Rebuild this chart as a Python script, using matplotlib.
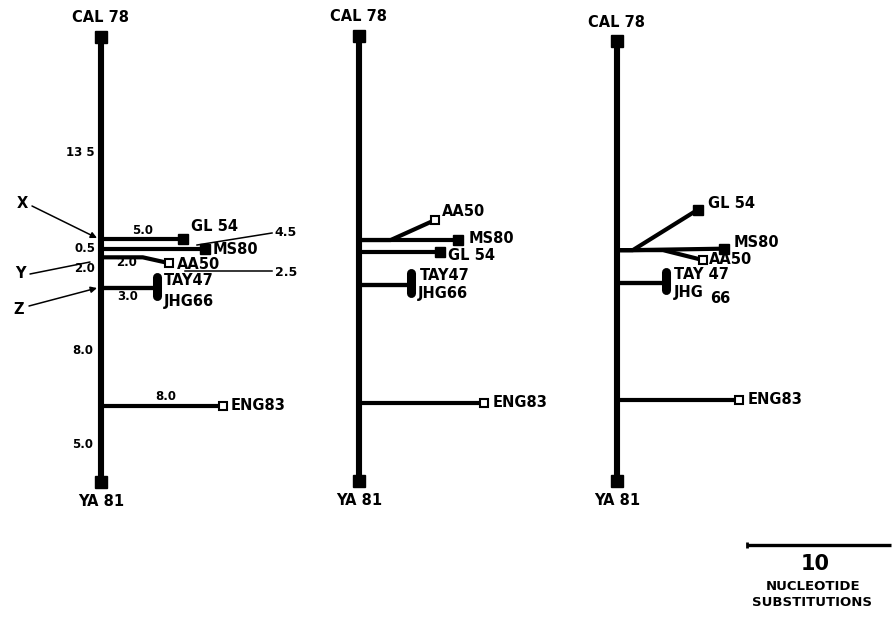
import matplotlib
matplotlib.use("Agg")
import matplotlib.pyplot as plt

# ---------------- data: positions in nucleotide substitutions ----------------
# x = distance from the trunk, y = distance below CAL78 along the trunk
taxa = ["GL54", "MS80", "AA50", "TAY47", "JHG66", "ENG83"]
taxon_text = ["GL 54", "MS80", "AA50", "TAY47", "JHG66", "ENG83"]
filled = [True, True, False, True, True, False]
root_name, tail_name = "CAL 78", "YA 81"

p1_root_y, p1_tail_y = 0.0, 30.9
p1_paths = [
    [(0, 14.0), (5.7, 14.0)],
    [(0, 14.7), (7.2, 14.7)],
    [(0, 15.3), (2.9, 15.3), (4.7, 15.7)],
    [(0, 17.4), (3.9, 17.4), (3.9, 16.7)],
    [(0, 17.4), (3.9, 17.4), (3.9, 18.0)],
    [(0, 25.6), (8.5, 25.6)],
]

p2_root_y, p2_tail_y = -0.1, 30.8
p2_paths = [
    [(0, 14.9), (5.6, 14.9)],
    [(0, 14.1), (6.9, 14.1)],
    [(0, 14.1), (2.2, 14.1), (5.3, 12.7)],
    [(0, 17.2), (3.6, 17.2), (3.6, 16.4)],
    [(0, 17.2), (3.6, 17.2), (3.6, 17.8)],
    [(0, 25.4), (8.7, 25.4)],
]

p3_root_y, p3_tail_y = 0.3, 30.8
p3_paths = [
    [(0, 14.8), (1.1, 14.8), (5.6, 12.0)],
    [(0, 14.8), (1.1, 14.8), (7.4, 14.7)],
    [(0, 14.8), (3.2, 14.8), (6.0, 15.5)],
    [(0, 17.1), (3.4, 17.1), (3.4, 16.3)],
    [(0, 17.1), (3.4, 17.1), (3.4, 17.6)],
    [(0, 25.2), (8.5, 25.2)],
]

# branch-length annotations of the left tree
trunk_lengths = ["13 5", "0.5", "2.0", "8.0", "5.0"]
branch_lengths = ["5.0", "2.0", "3.0", "8.0"]
pointer_lengths = ["4.5", "2.5"]
node_names = ["X", "Y", "Z"]
scale_value = 10
scale_text = ["10", "NUCLEOTIDE", "SUBSTITUTIONS"]

# ---------------- layout ----------------
PX = 14.4            # pixels per substitution
Y0 = 37              # pixel row of the top of the left tree
trunk_px = [101, 359, 617]
W, H = 893, 624

label_off = [
    [(8, -12), (8, 1), (8, 1), (7, 3), (7, 5), (7, 0)],
    [(8, 4), (10, -2), (7, -8), (9, 2), (7, 0), (8, 0)],
    [(10, -6), (10, -6), (6, -1), (8, 3), (8, 1), (8, 0)],
]

fig = plt.figure(figsize=(W / 100, H / 100), dpi=100)
ax = fig.add_axes([0, 0, 1, 1])
ax.set_xlim(0, W)
ax.set_ylim(H, 0)
ax.axis("off")

FONT = dict(family="DejaVu Sans", fontweight="bold", color="black")
LW_TRUNK, LW_BR = 4.4, 3.0
FS = 10.5


def to_px(panel, x, y):
    return trunk_px[panel] + x * PX, Y0 + y * PX


panels = [
    (p1_root_y, p1_tail_y, p1_paths),
    (p2_root_y, p2_tail_y, p2_paths),
    (p3_root_y, p3_tail_y, p3_paths),
]

for pi, (ry, ty, paths) in enumerate(panels):
    x0, y_top = to_px(pi, 0, ry)
    _, y_bot = to_px(pi, 0, ty)
    ax.plot([x0, x0], [y_top, y_bot], color="black", lw=LW_TRUNK,
            solid_capstyle="butt", zorder=2)
    for yy in (y_top, y_bot):
        ax.plot(x0, yy, marker="s", ms=8, color="black", zorder=3)
    ax.text(x0, y_top - 19, root_name, ha="center", va="center", fontsize=FS, **FONT)
    ax.text(x0, y_bot + 20, tail_name, ha="center", va="center", fontsize=FS, **FONT)

    for ti, path in enumerate(paths):
        pts = [to_px(pi, x, y) for x, y in path]
        is_bar = taxa[ti] in ("TAY47", "JHG66")
        main = pts[:-1] if is_bar else pts
        ax.plot([p[0] for p in main], [p[1] for p in main], color="black",
                lw=LW_BR, solid_capstyle="butt", solid_joinstyle="round", zorder=2)
        tx, tyy = pts[-1]
        if is_bar:
            ax.plot([pts[-2][0], tx], [pts[-2][1], tyy], color="black", lw=6.5,
                    solid_capstyle="round", zorder=3)
        elif filled[ti]:
            ax.plot(tx, tyy, marker="s", ms=6.5, color="black", zorder=3)
        else:
            ax.plot(tx, tyy, marker="s", ms=6, mfc="white", mec="black",
                    mew=1.5, zorder=3)
        dx, dy = label_off[pi][ti]
        label = taxon_text[ti]
        if pi == 2 and taxa[ti] == "JHG66":
            ax.text(tx + dx, tyy + dy + 1, label[:3], ha="left", va="center",
                    fontsize=FS, **FONT)
            ax.text(tx + dx + 36, tyy + dy + 7, label[3:], ha="left", va="center",
                    fontsize=FS, **FONT)
        elif pi == 2 and taxa[ti] == "TAY47":
            ax.text(tx + dx, tyy + dy, "TAY 47", ha="left", va="center",
                    fontsize=FS, **FONT)
        else:
            ax.text(tx + dx, tyy + dy, label, ha="left", va="center",
                    fontsize=FS, **FONT)

# --- annotations of the left tree ---
trunk_label_pos = [(80, 153), (85, 249), (85, 268), (83, 351), (83, 444)]
for s, (x, y) in zip(trunk_lengths, trunk_label_pos):
    ax.text(x, y, s, ha="center", va="center", fontsize=8.5, **FONT)
branch_label_pos = [(143, 231), (127, 262), (128, 296), (166, 396)]
for s, (x, y) in zip(branch_lengths, branch_label_pos):
    ax.text(x, y, s, ha="center", va="center", fontsize=8.5, **FONT)

# pointer lines for 4.5 and 2.5
ax.plot([197, 272], [245, 233], color="black", lw=1.1, zorder=1)
ax.plot([185, 272], [271, 271], color="black", lw=1.1, zorder=1)
for s, (x, y) in zip(pointer_lengths, [(286, 233), (286, 272)]):
    ax.text(x, y, s, ha="center", va="center", fontsize=9, **FONT)

# X, Y, Z node pointers
node_label_pos = [(22, 203), (20, 274), (19, 310)]
node_targets = [(97, 238), (90, 262), (97, 288)]
node_starts = [(32, 206), (30, 274), (29, 306)]
for name, (lx, ly), (sx, sy), (ex, ey) in zip(node_names, node_label_pos,
                                              node_starts, node_targets):
    ax.text(lx, ly, name, ha="center", va="center", fontsize=10.5, **FONT)
    style = "-|>" if name != "Y" else "-"
    ax.annotate("", xy=(ex, ey), xytext=(sx, sy),
                arrowprops=dict(arrowstyle=style, color="black", lw=1.1,
                                mutation_scale=9, shrinkA=0, shrinkB=0))

# scale bar
sb_x0, sb_y = 747, 545
ax.plot([sb_x0, sb_x0 + scale_value * PX], [sb_y, sb_y], color="black", lw=2.4,
        solid_capstyle="butt")
ax.plot(sb_x0, sb_y, marker="|", ms=5, mew=2, color="black")
ax.text(815, 564, scale_text[0], ha="center", va="center", fontsize=15, **FONT)
ax.text(813, 586, scale_text[1], ha="center", va="center", fontsize=9.5, **FONT)
ax.text(812, 602, scale_text[2], ha="center", va="center", fontsize=9.5, **FONT)

fig.savefig("out.png", dpi=100)
